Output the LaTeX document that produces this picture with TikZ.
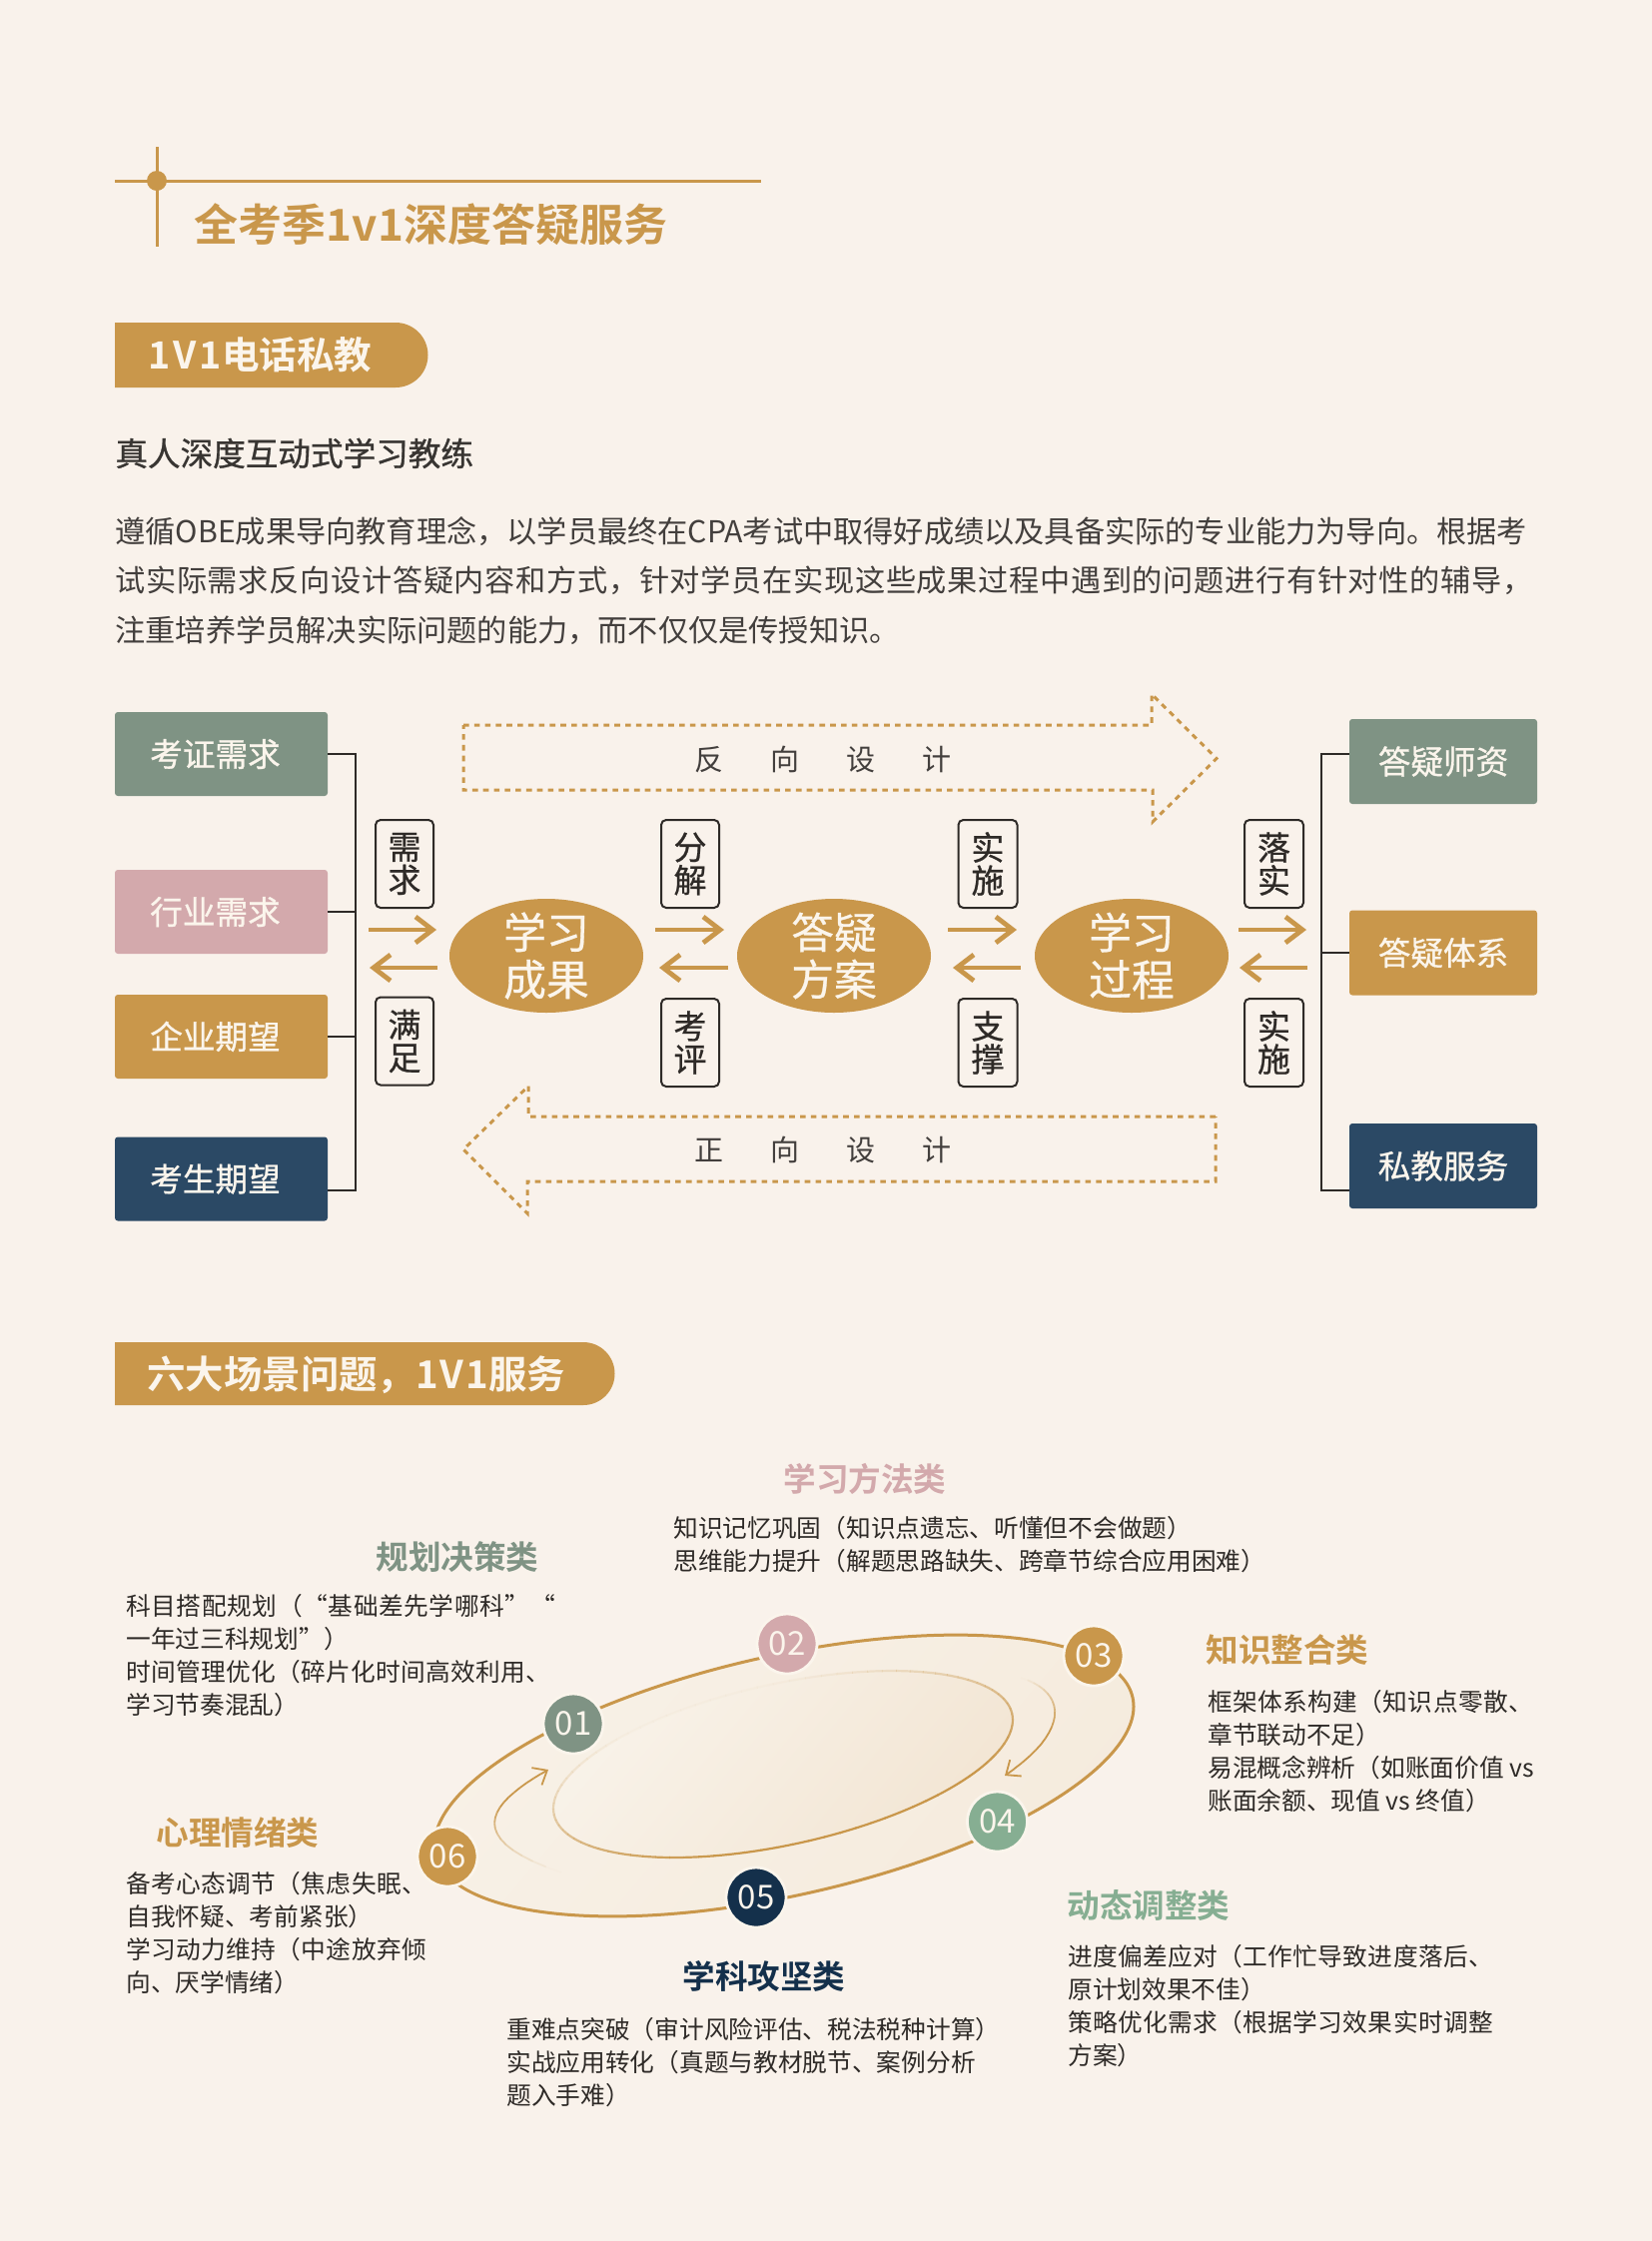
\documentclass[tikz,border=0pt]{standalone}
\usepackage{fontspec}
\usetikzlibrary{arrows.meta,shapes.geometric}
\setmainfont{Noto Sans CJK SC}[BoldFont={Noto Sans CJK SC Bold}]
\newfontfamily\medf[FakeBold=1.0]{Noto Sans CJK SC}
\newfontfamily\semif[FakeBold=0.7]{Noto Sans CJK SC}
\newfontfamily\boldf{Noto Sans CJK SC Bold}
\definecolor{bgc}{HTML}{F9F2EB}
\definecolor{gold}{HTML}{C9974B}
\definecolor{sage}{HTML}{7F9384}
\definecolor{pinkc}{HTML}{D3A9AC}
\definecolor{navy}{HTML}{2B4965}
\definecolor{deepnavy}{HTML}{14304B}
\definecolor{mint}{HTML}{86AE92}
\definecolor{ink}{HTML}{2E2A27}
\definecolor{cream}{HTML}{FBF5EC}
\definecolor{oa}{HTML}{F8F1E7}
\definecolor{ob}{HTML}{F5EBDD}
\definecolor{ia}{HTML}{F9F3EA}
\definecolor{ib}{HTML}{F2E5D3}
\newcommand\st{\rule{0pt}{.88em}\rule[-.12em]{0pt}{.12em}}
\newcommand\ls[1]{\addfontfeature{LetterSpace=#1}}
\tikzset{
  lab/.style={anchor=west,inner sep=0pt,text=ink,font=\fontsize{12.35}{14}\selectfont},
  para/.style={anchor=west,inner sep=0pt,text=ink!90,font=\fontsize{15.1}{16}\selectfont},
  cat/.style={anchor=center,inner sep=0pt,font=\boldf\fontsize{16.3}{18}\selectfont},
  pilltext/.style={anchor=west,inner sep=0pt,text=cream,font=\boldf\fontsize{19.2}{20}\selectfont},
  lbox/.style={rectangle,rounded corners=1.5pt,inner sep=0pt,minimum width=106.5pt,minimum height=42pt,text=cream,font=\medf\fontsize{16.3}{18}\selectfont},
  rbox/.style={lbox,minimum width=94pt,minimum height=42.5pt},
  tagbox/.style={rectangle,draw=ink,line width=1pt,rounded corners=2.5pt,fill=bgc,inner sep=0pt,minimum width=29pt,minimum height=44pt,align=center,text=ink,font=\semif\fontsize{16.5}{16.5}\selectfont},
  hub/.style={ellipse,fill=gold,inner sep=0pt,minimum width=97pt,minimum height=57pt},
  hubtext/.style={align=center,inner sep=0pt,text=cream,font=\semif\fontsize{21.4}{23.5}\selectfont},
  goldarrow/.style={draw=gold,line width=2.4pt,-{Straight Barb[length=8.5pt,width=13pt,line width=2.4pt]}},
  bracket/.style={draw=ink,line width=1.1pt},
  dasharrow/.style={draw=gold,line width=1.5pt,dash pattern=on 2.8pt off 2.6pt},
  dirtext/.style={inner sep=0pt,text=ink!90,font=\fontsize{14.5}{16}\selectfont},
  numdot/.style={circle,draw=cream,line width=1.4pt,inner sep=0pt,minimum size=30pt,text=cream,font=\fontsize{16.5}{18}\selectfont},
}
\newcommand\garrow[4]{\coordinate (#1s) at (#2,#4);\coordinate (#1e) at (#3,#4);\draw[goldarrow] (#1s) -- (#1e);}
\begin{document}
\begin{tikzpicture}[x=0.5pt,y=-0.5pt]
\useasboundingbox (0,0) rectangle (1654,2244);
\fill[bgc] (0,0) rectangle (1654,2244);

% title ornament
\coordinate (hl) at (115,181);\coordinate (hr) at (762,181);
\coordinate (vt) at (157,147);\coordinate (vb) at (157,247);
\draw[gold,line width=1.5pt] (hl) -- (hr);
\draw[gold,line width=1.5pt] (vt) -- (vb);
\fill[gold] (157,181) circle (5pt);
\node[anchor=west,inner sep=0pt,text=gold,font=\boldf\fontsize{22}{24}\selectfont] (title) at (194.5,225) {\st 全考季1v1深度答疑服务};

% first pill
\fill[gold] (115,323) -- (396,323) arc[start angle=90,end angle=-90,radius=16.25pt] -- (115,388) -- cycle;
\node[pilltext,font=\boldf\fontsize{18.8}{20}\selectfont] (pill1) at (148,355) {\st {\addfontfeature{LetterSpace=8}1V1}电话私教};

\node[anchor=west,inner sep=0pt,text=ink!95,font=\medf\fontsize{16.3}{18}\selectfont] (sub) at (115,454) {\st 真人深度互动式学习教练};
\node[para] (p1) at (115,532) {\st 遵循OBE成果导向教育理念，以学员最终在CPA考试中取得好成绩以及具备实际的专业能力为导向。根据考};
\node[para] (p2) at (115,581) {\st\ls{2.2} 试实际需求反向设计答疑内容和方式，针对学员在实现这些成果过程中遇到的问题进行有针对性的辅导，};
\node[para] (p3) at (115,631) {\st 注重培养学员解决实际问题的能力，而不仅仅是传授知识。};

% dashed arrows
\coordinate (da1) at (464,726);\coordinate (da2) at (1153,726);\coordinate (da3) at (1153,695);
\coordinate (da4) at (1218,759.5);\coordinate (da5) at (1154,823);\coordinate (da6) at (1154,791);\coordinate (da7) at (464,791);
\draw[dasharrow] (da1) -- (da2) -- (da3) -- (da4) -- (da5) -- (da6) -- (da7) -- cycle;
\coordinate (db1) at (1217,1118);\coordinate (db2) at (529,1118);\coordinate (db3) at (529,1087.5);
\coordinate (db4) at (464,1151);\coordinate (db5) at (528,1215);\coordinate (db6) at (528,1183);\coordinate (db7) at (1217,1183);
\draw[dasharrow] (db1) -- (db2) -- (db3) -- (db4) -- (db5) -- (db6) -- (db7) -- cycle;
\node[dirtext] (fan) at (824,760) {\st 反\hspace{23.5pt}向\hspace{23.5pt}设\hspace{23.5pt}计};
\node[dirtext] (zheng) at (824,1151) {\st 正\hspace{23.5pt}向\hspace{23.5pt}设\hspace{23.5pt}计};

% left boxes
\node[lbox,fill=sage] (k1) at (221.5,755) {\hspace*{-6pt}\st 考证需求};
\node[lbox,fill=pinkc] (k2) at (221.5,913) {\hspace*{-6pt}\st 行业需求};
\node[lbox,fill=gold] (k3) at (221.5,1038) {\hspace*{-6pt}\st 企业期望};
\node[lbox,fill=navy] (k4) at (221.5,1180.5) {\hspace*{-6pt}\st 考生期望};
\coordinate (bl1) at (356,755);\coordinate (bl2) at (356,1192);
\draw[bracket] (k1.east) -- (bl1) -- (bl2) -- (k4.east |- bl2);
\draw[bracket] (k2.east) -- (k2.east -| bl1);
\draw[bracket] (k3.east) -- (k3.east -| bl1);

% right boxes
\node[rbox,fill=sage] (r1) at (1445,762.5) {\st 答疑师资};
\node[rbox,fill=gold] (r2) at (1445,954) {\st 答疑体系};
\node[rbox,fill=navy] (r3) at (1445,1167.5) {\st 私教服务};
\coordinate (br1) at (1323,755);\coordinate (br2) at (1323,1192);
\draw[bracket] (r1.west |- br1) -- (br1) -- (br2) -- (r3.west |- br2);
\draw[bracket] (r2.west) -- (r2.west -| br1);

% hubs
\node[hub] (h1) at (547,957) {};
\node[hubtext] (h1t) at (h1.center) {学习\\成果};
\node[hub] (h2) at (835,957) {};
\node[hubtext] (h2t) at (h2.center) {答疑\\方案};
\node[hub] (h3) at (1133,957) {};
\node[hubtext] (h3t) at (h3.center) {学习\\过程};

% tags
\node[tagbox] (t1) at (405,865) {需\\求};
\node[tagbox] (t2) at (405,1042.5) {满\\足};
\node[tagbox] (t3) at (691,865) {分\\解};
\node[tagbox] (t4) at (691,1044) {考\\评};
\node[tagbox,minimum width=29.5pt] (t5) at (989,865) {实\\施};
\node[tagbox,minimum width=29.5pt] (t6) at (989,1044) {支\\撑};
\node[tagbox,minimum width=29.5pt] (t7) at (1275.5,865) {落\\实};
\node[tagbox,minimum width=29.5pt] (t8) at (1275.5,1044) {实\\施};

% gold arrows
\garrow{a}{369}{437}{931}
\garrow{b}{438}{370}{969}
\garrow{c}{656}{725}{931}
\garrow{d}{729}{660}{969}
\garrow{e}{949}{1018}{931}
\garrow{f}{1022}{954}{969}
\garrow{g}{1240}{1308}{931}
\garrow{i}{1309}{1241}{969}

% second pill
\fill[gold] (115,1344) -- (584,1344) arc[start angle=90,end angle=-90,radius=15.75pt] -- (115,1407) -- cycle;
\node[pilltext] (pill2) at (147,1376) {\st 六大场景问题，{\addfontfeature{LetterSpace=5}1V1}服务};

% orbit
\shade[shift={(785,1778)},rotate=12.65,top color=oa,bottom color=ob,shading angle=50] (0,0) ellipse [x radius=178.85pt,y radius=60pt];
\draw[shift={(785,1778)},rotate=12.65,gold,line width=1.5pt] (0,0) ellipse [x radius=178.85pt,y radius=60pt];
\shade[shift={(784,1766.5)},rotate=12.4,top color=ia,bottom color=ib,shading angle=50] (0,0) ellipse [x radius=117.4pt,y radius=40.3pt];
\foreach \t in {0,4,...,356}{
  \pgfmathsetmacro\op{min(1,max(0.03,0.55+0.55*cos(\t-285)))}
  \draw[shift={(784,1766.5)},rotate=12.4,gold,line width=1.1pt,opacity=\op]
    (\t:117.4pt and 40.3pt) arc[start angle=\t,delta angle=4.2,x radius=117.4pt,y radius=40.3pt];
}
% curved arrows with a fading start
\newcommand\fadecurve[8]{%
  \foreach \k in {0,...,18}{
    \pgfmathsetmacro\ta{\k/20}\pgfmathsetmacro\tb{(\k+1)/20}
    \pgfmathsetmacro\xa{(1-\ta)^3*#1+3*(1-\ta)^2*\ta*#3+3*(1-\ta)*\ta^2*#5+\ta^3*#7}
    \pgfmathsetmacro\ya{(1-\ta)^3*#2+3*(1-\ta)^2*\ta*#4+3*(1-\ta)*\ta^2*#6+\ta^3*#8}
    \pgfmathsetmacro\xb{(1-\tb)^3*#1+3*(1-\tb)^2*\tb*#3+3*(1-\tb)*\tb^2*#5+\tb^3*#7}
    \pgfmathsetmacro\yb{(1-\tb)^3*#2+3*(1-\tb)^2*\tb*#4+3*(1-\tb)*\tb^2*#6+\tb^3*#8}
    \pgfmathsetmacro\op{min(1,\ta*1.6+0.02)}
    \draw[gold,line width=0.9pt,opacity=\op] (\xa,\ya) -- (\xb,\yb);
  }
  \pgfmathsetmacro\xa{0.000125*#1+3*0.0025*0.95*#3+3*0.05*0.9025*#5+0.857375*#7}
  \pgfmathsetmacro\ya{0.000125*#2+3*0.0025*0.95*#4+3*0.05*0.9025*#6+0.857375*#8}
  \draw[gold,line width=0.9pt,-{Straight Barb[length=6pt,width=10pt,line width=0.9pt]}] (\xa,\ya) -- (#7,#8);
}
\fadecurve{1022}{1680}{1070}{1695}{1070}{1735}{1006}{1778}
\fadecurve{562}{1875}{452}{1838}{500}{1800}{549}{1772}

\node[numdot,fill=sage] (n1) at (574,1726) {01};
\node[numdot,fill=pinkc] (n2) at (788,1646) {02};
\node[numdot,fill=gold] (n3) at (1095,1658) {03};
\node[numdot,fill=mint] (n4) at (998.5,1824) {04};
\node[numdot,fill=deepnavy] (n5) at (757,1900) {05};
\node[numdot,fill=gold] (n6) at (448,1859) {06};

% categories
\node[cat,text=pinkc] (c2) at (866,1481) {\st 学习方法类};
\node[lab] (c2a) at (674,1530) {\st 知识记忆巩固（知识点遗忘、听懂但不会做题）};
\node[lab] (c2b) at (674,1563) {\st 思维能力提升（解题思路缺失、跨章节综合应用困难）};

\node[cat,text=sage] (c1) at (458,1559) {\st 规划决策类};
\node[lab] (c1a) at (126,1608) {\st\ls{2.4} 科目搭配规划（“基础差先学哪科”“};
\node[lab] (c1b) at (126,1641) {\st 一年过三科规划”）};
\node[lab] (c1c) at (126,1674) {\st\ls{1.2} 时间管理优化（碎片化时间高效利用、};
\node[lab] (c1d) at (126,1707) {\st 学习节奏混乱）};

\node[cat,text=gold] (c3) at (1289,1652) {\st 知识整合类};
\node[lab] (c3a) at (1209,1704) {\st\ls{1.5} 框架体系构建（知识点零散、};
\node[lab] (c3b) at (1209,1737) {\st 章节联动不足）};
\node[lab] (c3c) at (1209,1770) {\st 易混概念辨析（如账面价值 vs};
\node[lab] (c3d) at (1209,1803) {\st 账面余额、现值 vs 终值）};

\node[cat,text=gold] (c6) at (238,1835) {\st 心理情绪类};
\node[lab] (c6a) at (126,1886) {\st\ls{1.5} 备考心态调节（焦虑失眠、};
\node[lab] (c6b) at (126,1919) {\st 自我怀疑、考前紧张）};
\node[lab] (c6c) at (126,1952) {\st\ls{1.5} 学习动力维持（中途放弃倾};
\node[lab] (c6d) at (126,1985) {\st 向、厌学情绪）};

\node[cat,text=mint] (c4) at (1150,1908) {\st 动态调整类};
\node[lab] (c4a) at (1069,1959) {\st\ls{1.4} 进度偏差应对（工作忙导致进度落后、};
\node[lab] (c4b) at (1069,1992) {\st 原计划效果不佳）};
\node[lab] (c4c) at (1069,2025) {\st\ls{1.4} 策略优化需求（根据学习效果实时调整};
\node[lab] (c4d) at (1069,2058) {\st 方案）};

\node[cat,text=deepnavy] (c5) at (765,1979) {\st 学科攻坚类};
\node[lab] (c5a) at (507,2032) {\st 重难点突破（审计风险评估、税法税种计算）};
\node[lab] (c5b) at (507,2065) {\st 实战应用转化（真题与教材脱节、案例分析};
\node[lab] (c5c) at (507,2098) {\st 题入手难）};
\end{tikzpicture}
\end{document}
